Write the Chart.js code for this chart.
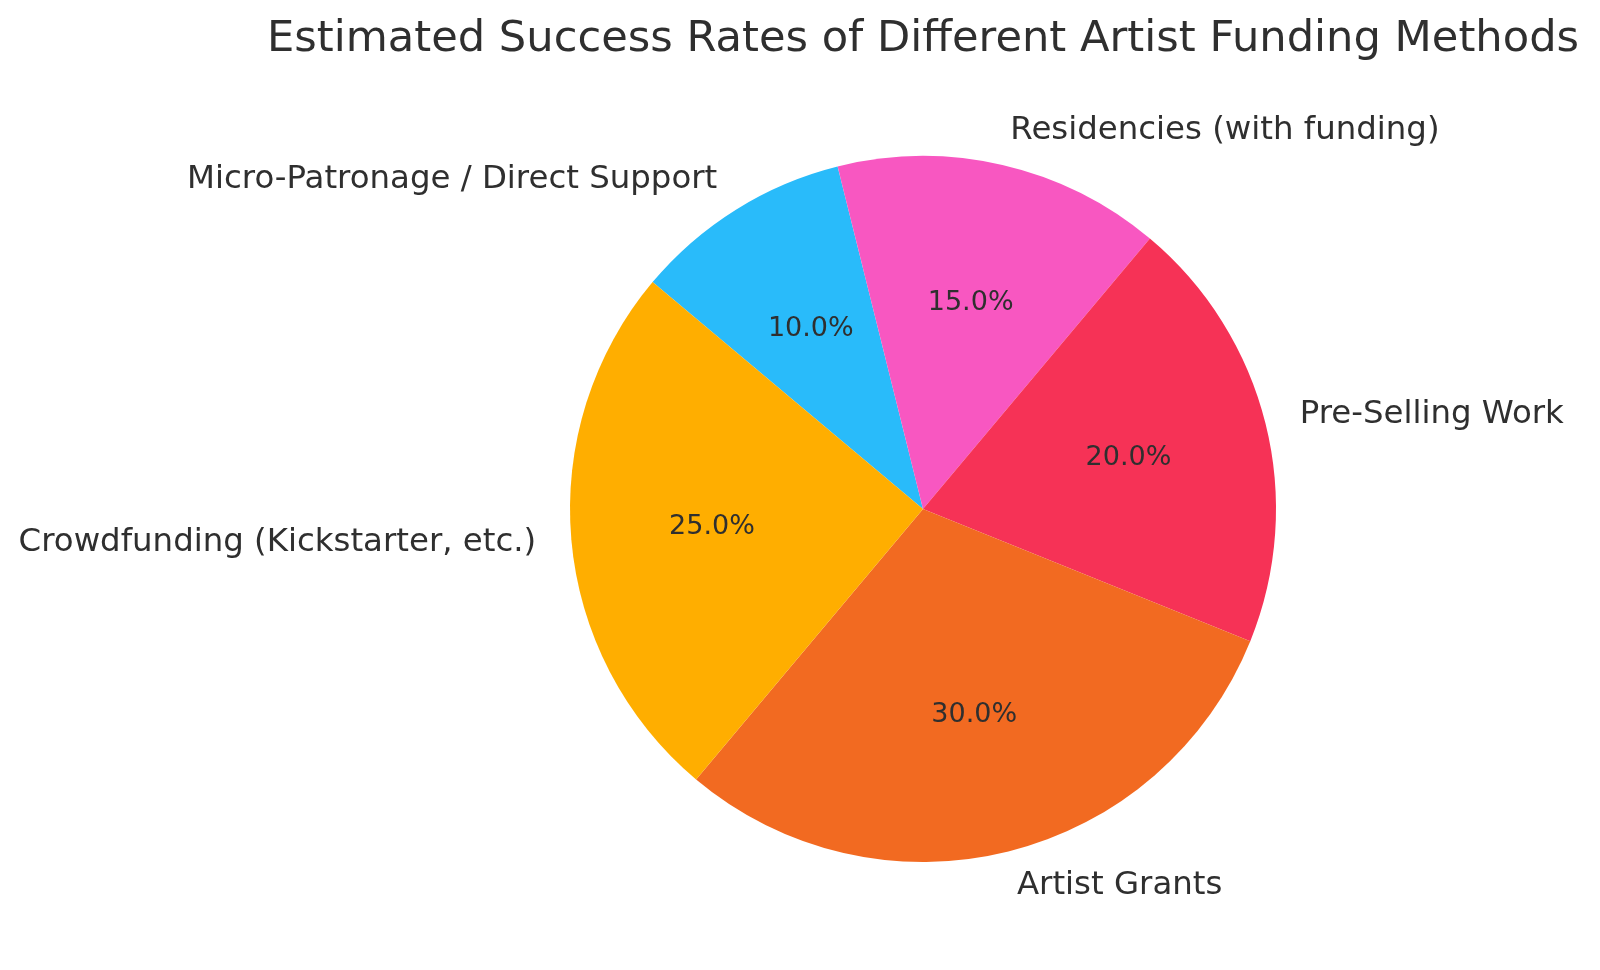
<!DOCTYPE html>
<html lang="en">
<head>
    <meta charset="UTF-8">
    <title>Estimated Success Rates of Different Artist Funding Methods</title>
    <script src="https://cdn.jsdelivr.net/npm/chart.js"></script>
    <style>
        html, body { margin: 0; padding: 0; background: #ffffff; }
        #chart-container { width: 1600px; height: 970px; }
    </style>
</head>
<body>
    <div id="chart-container">
        <canvas id="fundingChart" width="1600" height="970"></canvas>
    </div>

    <script>
        // Data (clockwise order, starting at the top-left edge)
        const categories = [
            'Micro-Patronage / Direct Support',
            'Residencies (with funding)',
            'Pre-Selling Work',
            'Artist Grants',
            'Crowdfunding (Kickstarter, etc.)'
        ];
        const successRates = [10, 15, 20, 30, 25];
        const sliceColors = ['#29BBFA', '#F857C1', '#F63256', '#F26A21', '#FFAE00'];
        const chartTitle = 'Estimated Success Rates of Different Artist Funding Methods';

        const FONT = "'DejaVu Sans', sans-serif";
        const TEXT_COLOR = '#2f2f2f';

        // Labels outside the slices + percentages inside, plus the title
        const pieLabels = {
            id: 'pieLabels',
            afterDraw(chart) {
                const ctx = chart.ctx;
                const meta = chart.getDatasetMeta(0);
                const total = successRates.reduce((a, b) => a + b, 0);
                ctx.save();
                ctx.fillStyle = TEXT_COLOR;
                ctx.textBaseline = 'middle';
                meta.data.forEach((arc, i) => {
                    const mid = (arc.startAngle + arc.endAngle) / 2;
                    const r = arc.outerRadius;
                    const cx = Math.cos(mid), cy = Math.sin(mid);

                    // category label
                    ctx.font = '32.4px ' + FONT;
                    ctx.textAlign = cx > 0 ? 'left' : 'right';
                    ctx.fillText(categories[i], arc.x + cx * r * 1.1, arc.y + cy * r * 1.1);

                    // percentage
                    ctx.font = '27px ' + FONT;
                    ctx.textAlign = 'center';
                    const pct = (successRates[i] / total * 100).toFixed(1) + '%';
                    ctx.fillText(pct, arc.x + cx * r * 0.6, arc.y + cy * r * 0.6);
                });

                // title
                ctx.font = '43.2px ' + FONT;
                ctx.textAlign = 'center';
                ctx.fillText(chartTitle, meta.data[0].x, 40);
                ctx.restore();
            }
        };

        const ctx = document.getElementById('fundingChart').getContext('2d');
        const fundingChart = new Chart(ctx, {
            type: 'pie',
            data: {
                labels: categories,
                datasets: [{
                    data: successRates,
                    backgroundColor: sliceColors,
                    borderWidth: 0
                }]
            },
            options: {
                responsive: false,
                animation: false,
                devicePixelRatio: 1,
                rotation: -50,
                layout: {
                    padding: { left: 570, right: 324, top: 156, bottom: 108 }
                },
                plugins: {
                    legend: { display: false },
                    tooltip: { enabled: false },
                    title: { display: false }
                }
            },
            plugins: [pieLabels]
        });
    </script>
</body>
</html>
